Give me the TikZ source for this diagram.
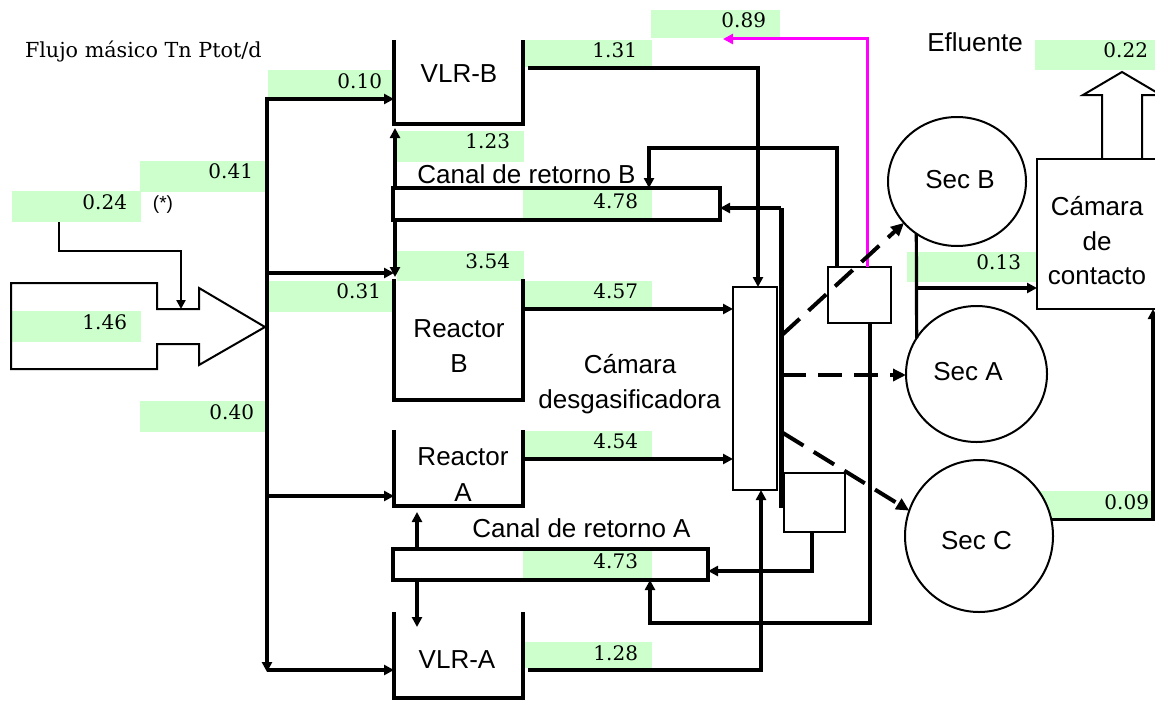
\documentclass[tikz,border=0pt]{standalone}
\usepackage{fontspec}
\setmainfont{Liberation Sans}
\newfontfamily\numf{DejaVu Serif}
\usetikzlibrary{arrows.meta,calc,shapes.geometric}
\definecolor{gfill}{RGB}{204,255,204}
\definecolor{mag}{RGB}{255,0,255}
\tikzset{
  every node/.style={outer sep=0pt},
  lab/.style={font=\fontsize{26}{30}\selectfont, inner sep=0pt, anchor=base},
  num/.style={font=\numf\fontsize{20}{24}\selectfont, inner sep=0pt, anchor=base east},
  wall/.style={line width=4pt},
  flow/.style={line width=3.2pt},
  arr/.style={flow, -{Triangle[length=10pt,width=10pt]}},
  thinln/.style={line width=2pt},
  dsh/.style={line width=4pt, dash pattern=on 24pt off 12pt, -{Triangle[length=13pt,width=12pt]}},
  tank/.style={inner sep=0pt, minimum width=129pt, anchor=north west},
  boxn/.style={draw, thinln, fill=white, inner sep=0pt, anchor=north west},
  sec/.style={ellipse, draw, thinln, fill=white, inner sep=0pt},
}
\newcommand\gnum[8]{%
  \path[fill=gfill] (#2,#3) rectangle (#4,#5);
  \node[num] (#1) at (#6,#7) {#8};}
\begin{document}
\begin{tikzpicture}[x=1pt,y=-1pt,line join=miter]
\useasboundingbox (0,0) rectangle (1155,701);
\clip (0,0) rectangle (1155,701);
% green value boxes
\gnum{n089}{651}{10}{780}{38}{766}{28}{0.89}
\gnum{n131}{525}{40}{652}{67}{637}{58}{1.31}
\gnum{n010}{268}{70}{392}{97}{382}{88}{0.10}
\gnum{n123}{397}{131}{524}{162}{510}{148}{1.23}
\gnum{n041}{140}{161}{267}{192}{253}{178}{0.41}
\gnum{n024}{12}{191}{141}{222}{127}{209}{0.24}
\gnum{n478}{523}{188}{652}{220}{638}{208}{4.78}
\gnum{n354}{397}{251}{524}{281}{510}{268}{3.54}
\gnum{n031}{268}{281}{392}{312}{381}{298}{0.31}
\gnum{n457}{524}{281}{652}{307}{638}{298}{4.57}
\gnum{n146}{12}{311}{141}{342}{127}{329}{1.46}
\gnum{n040}{140}{401}{267}{432}{254}{419}{0.40}
\gnum{n454}{524}{431}{652}{457}{638}{448}{4.54}
\gnum{n473}{523}{549}{652}{580}{638}{568}{4.73}
\gnum{n128}{525}{642}{652}{668}{638}{660}{1.28}
\gnum{n022}{1035}{40}{1155}{70}{1148}{58}{0.22}
\gnum{n013}{907}{252}{1036}{282}{1021}{269}{0.13}
\gnum{n009}{1035}{491}{1153}{519}{1149}{509}{0.09}
% tanks
\node[tank, minimum height=84pt] (vlrb) at (394,40) {};
\node[tank, minimum height=121pt] (rb) at (394,279) {};
\node[tank, minimum height=76pt] (ra) at (394,430) {};
\node[tank, minimum height=86pt] (vlra) at (394,612) {};
\foreach \t in {vlrb,rb,ra,vlra}
  \draw[wall] (\t.north west) -- (\t.south west) -- (\t.south east) -- (\t.north east);
% channels
\node[draw, line width=3.5pt, inner sep=0pt, anchor=north west, minimum width=327pt, minimum height=32pt] (canB) at (393,188) {};
\node[draw, line width=3.5pt, inner sep=0pt, anchor=north west, minimum width=315pt, minimum height=31pt] (canA) at (393,549) {};
% chambers and boxes
\node[boxn, minimum width=44pt, minimum height=203pt] (cham) at (733,287) {};
\node[boxn, minimum width=63pt, minimum height=56pt] (boxB) at (828,267) {};
\node[boxn, minimum width=61pt, minimum height=59pt] (boxA) at (784,473) {};
\node[boxn, minimum width=125pt, minimum height=150pt] (cc) at (1037,159) {};
% settlers
\node[sec, minimum width=138pt, minimum height=129pt] (secB) at (957,181.5) {};
\node[sec, minimum width=141pt, minimum height=136pt] (secA) at (976.5,374) {};
\node[sec, minimum width=148pt, minimum height=152pt] (secC) at (979,536) {};
% input arrow
\draw[thinln] (11,283) -- (157,283) -- (157,309) -- (199,309) -- (199,288) -- (265,327) -- (199,365) -- (199,344) -- (157,344) -- (157,369) -- (11,369) -- cycle;
\coordinate (notch) at (181,309);
% effluent arrow
\draw[thinln] ($(cc.north west)+(65,0)$) -- (1102,95) -- (1083,95) -- (1122,72) -- (1161,95) -- (1142,95) -- ($(cc.north west)+(105,0)$);
% feed lines
\coordinate (ttop) at (267,99);
\coordinate (tbot) at (267,672);
\coordinate (src024) at (59,222);
\draw[line width=2.5pt, -{Triangle[length=9pt,width=9pt]}] (src024) |- (181,251) -- (notch);
\draw[arr] (267,400) -- (tbot);
\draw[arr] (267,420) -- (ttop) -- (vlrb.west |- ttop);
\coordinate (j1) at (267,273);
\coordinate (j2) at (267,496);
\coordinate (j3) at (267,670);
\draw[arr] (j1) -- (rb.west |- j1);
\draw[arr] (j2) -- (ra.west |- j2);
\draw[arr] (j3) -- (vlra.west |- j3);
% return channels to tanks
\coordinate (xB) at ($(vlrb.south west)+(1,0)$);
\coordinate (xA) at ($(ra.south west)+(23,0)$);
\draw[arr] (xB |- canB.north) -- ($(xB)+(0,4)$);
\draw[arr] (xB |- canB.south) -- ($(xB |- rb.north)+(0,-2)$);
\draw[arr] (xA |- canA.north) -- ($(xA)+(0,6)$);
\draw[arr] (xA |- canA.south) -- ($(xA |- vlra.north)+(0,15)$);
% tank outlets to degassing chamber
\coordinate (rbo) at (525,309);
\coordinate (rao) at (525,459);
\draw[arr] (rbo) -- (rbo -| cham.west);
\draw[arr] (rao) -- (rao -| cham.west);
\draw[arr] (528,68) -| ($(cham.north west)+(25,0)$);
\draw[arr] (528,670) -| ($(cham.south west)+(28,0)$);
% chamber return line
\coordinate (tk1) at (781,208);
\coordinate (tk2) at (781,508);
\draw[line width=5pt] (tk2) -- (tk1);
\draw[arr] (tk1) -- (canB.east |- tk1);
% recirculation boxes
\draw[arr] ($(boxB.north west)+(9,0)$) -- ++(0,-119) -| ($(canB.north west)+(256,0)$);
\draw[line width=3pt, mag, -{Triangle[length=10pt,width=10pt]}] ($(boxB.north west)+(39,0)$) -- ++(0,-228) -- (723,39);
\draw[arr] ($(boxB.south west)+(42,0)$) -- (870,623) -| ($(canA.south west)+(257,0)$);
\draw[arr] ($(boxA.south west)+(28,0)$) |- ($(canA.south east)+(0,-9)$);
% dashed to settlers
\coordinate (d1) at (782,335);
\coordinate (d2) at (782,375);
\coordinate (d3) at (783,433);
\draw[dsh] (d1) -- (secB.218);
\draw[dsh] (d2) -- (d2 -| secA.west);
\draw[dsh] (d3) -- (secC.160);
% settlers to contact chamber
\draw[flow] (secB.232) -- (secA.149);
\coordinate (j13) at (916,288);
\draw[arr] (j13) -- (j13 -| cc.west);
\draw[arr] (secC.13) -| ($(cc.south west)+(116,0)$);
% labels
\node[lab] (tVLRB) at (459,82) {VLR-B};
\node[lab] (tCanB) at (526.5,183) {Canal de retorno B};
\node[lab] (tRB1) at (459,337) {Reactor};
\node[lab] (tRB2) at (459,372) {B};
\node[lab] (tCam1) at (630,373) {Cámara};
\node[lab] (tCam2) at (629.5,408) {desgasificadora};
\node[lab] (tRA1) at (463,465) {Reactor};
\node[lab] (tRA2) at (463,501) {A};
\node[lab] (tCanA) at (581.5,537) {Canal de retorno A};
\node[lab] (tVLRA) at (457,668) {VLR-A};
\node[lab] (tSB) at (960,188) {Sec B};
\node[lab] (tSA) at (968,380) {Sec A};
\node[lab] (tSC) at (976.5,549) {Sec C};
\node[lab] (tCC1) at (1097,215) {Cámara};
\node[lab] (tCC2) at (1097,250) {de};
\node[lab] (tCC3) at (1097,284) {contacto};
\node[lab] (tEf) at (975,52) {Efluente};
\node[font=\fontsize{19}{22}\selectfont, inner sep=0pt] (tAst) at (163,205) {(*)};
\node[font=\numf\fontsize{20.7}{24}\selectfont, inner sep=0pt, anchor=base west] (tFlujo) at (25,58) {Flujo másico Tn Ptot/d};
\end{tikzpicture}
\end{document}
